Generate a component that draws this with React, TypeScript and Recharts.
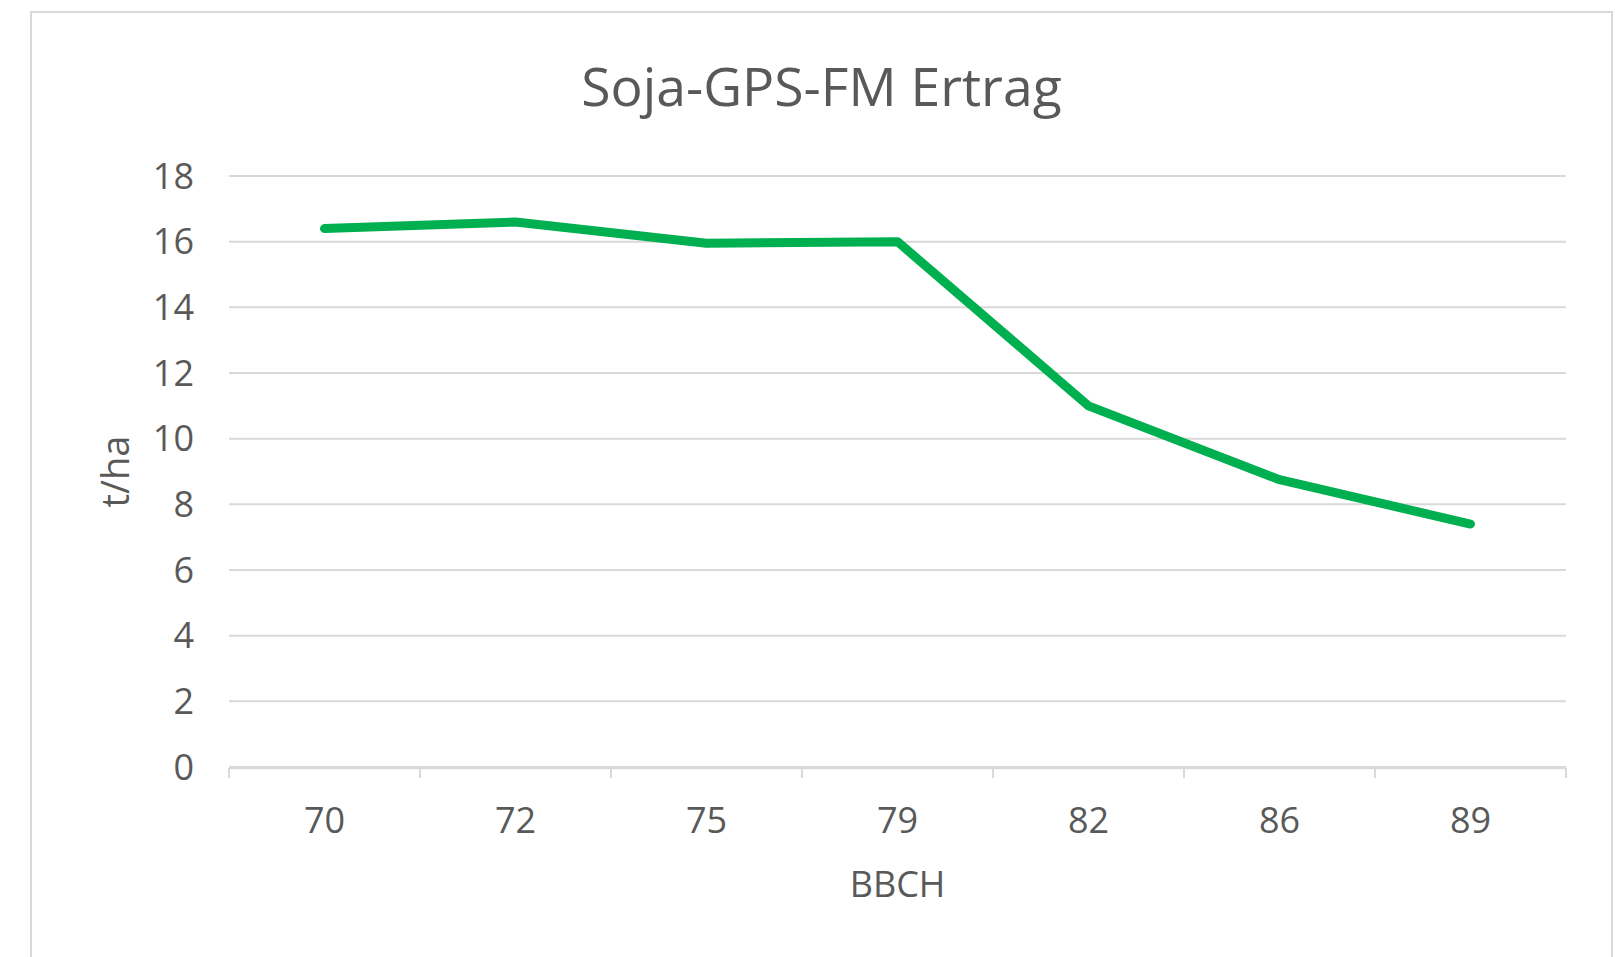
import React from 'react';
import {
  LineChart,
  Line,
  XAxis,
  YAxis,
  CartesianGrid,
  Label
} from 'recharts';

const stages = ['70', '72', '75', '79', '82', '86', '89'];
const yieldValues = [16.4, 16.6, 15.95, 16.0, 11.0, 8.75, 7.4];
const yTicks = [0, 2, 4, 6, 8, 10, 12, 14, 16, 18];
// boundaries between categories (category index ± 0.5)
const bandEdges = [-0.5, 0.5, 1.5, 2.5, 3.5, 4.5, 5.5, 6.5];

const FONT = '"Open Sans", sans-serif';
const TEXT = '#595959';
const GRID = '#d9d9d9';
const HALF_BAND = 95.5;

const NoLabel = () => <g />;

export default function App() {
  const data = stages.map((s, i) => ({ bbch: s, ertrag: yieldValues[i] }));

  return (
    <div style={{ position: 'absolute', left: 0, top: 0, width: 1615, height: 957, background: '#fff', overflow: 'hidden' }}>
      {/* chart frame */}
      <div
        style={{
          position: 'absolute',
          left: 30,
          top: 11,
          width: 1583,
          height: 946,
          boxSizing: 'border-box',
          borderTop: '2px solid #d9d9d9',
          borderLeft: '2px solid #d9d9d9',
          borderRight: '2px solid #d9d9d9'
        }}
      />
      <div
        style={{
          position: 'absolute',
          left: 30,
          width: 1583,
          top: 49,
          textAlign: 'center',
          fontFamily: FONT,
          fontSize: 53.5,
          color: TEXT
        }}
      >
        Soja-GPS-FM Ertrag
      </div>
      <div style={{ position: 'absolute', left: 0, top: 0 }}>
        <LineChart
          width={1615}
          height={957}
          data={data}
          margin={{ top: 176, right: 49, bottom: 50, left: 3 }}
        >
          <CartesianGrid vertical={false} stroke={GRID} strokeWidth={2} />
          {/* category separators (Excel style), also carries the axis title */}
          <XAxis
            xAxisId="edges"
            type="number"
            domain={['dataMin', 'dataMax']}
            padding={{ left: HALF_BAND, right: HALF_BAND }}
            ticks={bandEdges}
            interval={0}
            tick={NoLabel}
            tickSize={10}
            height={139}
            axisLine={{ stroke: GRID, strokeWidth: 2.5 }}
            tickLine={{ stroke: GRID, strokeWidth: 2 }}
          >
            <Label
              value="BBCH"
              position="insideBottom"
              offset={10}
              fill={TEXT}
              fontSize={36}
              fontFamily={FONT}
            />
          </XAxis>
          <XAxis
            dataKey="bbch"
            padding={{ left: HALF_BAND, right: HALF_BAND }}
            axisLine={false}
            tickLine={false}
            tickSize={0}
            tickMargin={40}
            height={1}
            tick={{ fill: TEXT, fontSize: 36, fontFamily: FONT }}
          />
          <YAxis
            domain={[0, 18]}
            ticks={yTicks}
            width={226}
            axisLine={false}
            tickLine={false}
            tickSize={0}
            tickMargin={35}
            tick={{ fill: TEXT, fontSize: 36, fontFamily: FONT }}
          >
            <Label
              value="t/ha"
              angle={-90}
              position="center"
              fill={TEXT}
              fontSize={38}
              fontFamily={FONT}
            />
          </YAxis>
          <Line
            dataKey="ertrag"
            stroke="#00b050"
            strokeWidth={9}
            strokeLinecap="round"
            strokeLinejoin="round"
            dot={false}
            activeDot={false}
            isAnimationActive={false}
          />
        </LineChart>
      </div>
    </div>
  );
}
